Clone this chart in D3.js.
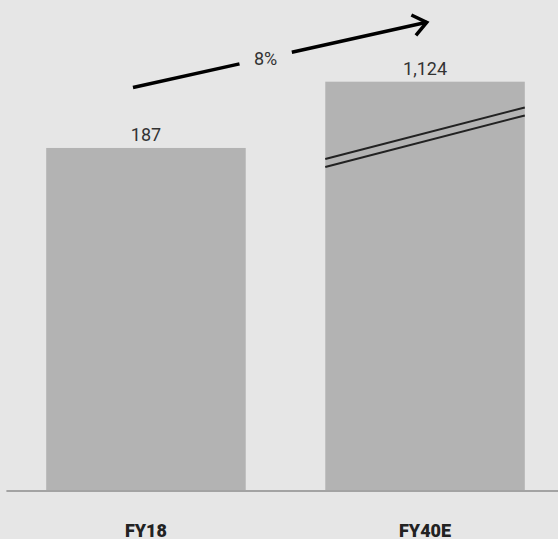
<!DOCTYPE html>
<html>
<head>
<meta charset="utf-8">
<script src="https://cdn.jsdelivr.net/npm/d3@7"></script>
<style>
  html, body { margin: 0; padding: 0; background: #e6e6e6; }
  svg { display: block; }
</style>
</head>
<body>
<svg id="chart" width="558" height="539"></svg>
<script>
// Revenue, FY18 actual vs FY40 estimate
const categories = ["FY18", "FY40E"];
const values = [187, 1124];
const valueLabels = ["187", "1,124"];
const growthLabel = "8%";
// value at which the axis is broken (short bar scale below, compressed above)
const breakValue = 193;

const width = 558, height = 539;
const baseline = 490;

const svg = d3.select("#chart");

svg.append("rect")
  .attr("width", width).attr("height", height)
  .attr("fill", "#e6e6e6");

const x = d3.scaleBand()
  .domain(categories)
  .range([13, 558])
  .paddingInner(0.285)
  .paddingOuter(0.119);

// piecewise scale: linear up to the break, compressed above it
const y = d3.scaleLinear()
  .domain([0, breakValue, d3.max(values)])
  .range([baseline, 137, 81.7]);

const data = categories.map((c, i) => ({ cat: c, value: values[i], label: valueLabels[i] }));

// bars
svg.selectAll("rect.bar")
  .data(data)
  .join("rect")
  .attr("class", "bar")
  .attr("x", d => x(d.cat))
  .attr("y", d => y(d.value))
  .attr("width", x.bandwidth())
  .attr("height", d => y(0) - y(d.value))
  .attr("fill", "#b3b3b3");

// axis break marks on bars that extend past the break
const breakY = y(breakValue);
data.filter(d => d.value > breakValue).forEach(d => {
  const x0 = x(d.cat), x1 = x(d.cat) + x.bandwidth();
  [-4, 4].forEach(off => {
    svg.append("line")
      .attr("x1", x0).attr("y1", breakY + 26 + off)
      .attr("x2", x1).attr("y2", breakY - 25.5 + off)
      .attr("stroke", "#222")
      .attr("stroke-width", 2);
  });
});

// baseline axis
const xAxis = d3.axisBottom(x).tickSize(0).tickPadding(0);
const axisG = svg.append("g").attr("transform", `translate(0,${baseline + 1})`).call(xAxis);
axisG.select(".domain")
  .attr("d", `M6.4,0H558`)
  .attr("stroke", "#a3a3a3")
  .attr("stroke-width", 2);
axisG.selectAll(".tick text")
  .attr("y", 45.5)
  .attr("dy", null)
  .attr("fill", "#222")
  .style("font-family", "Roboto, 'Noto Sans', sans-serif")
  .style("font-weight", 900)
  .style("font-size", "18px");

// value labels
svg.selectAll("text.value")
  .data(data)
  .join("text")
  .attr("class", "value")
  .attr("x", d => x(d.cat) + x.bandwidth() / 2)
  .attr("y", d => y(d.value) - 7)
  .attr("text-anchor", "middle")
  .attr("fill", "#333")
  .style("font-family", "Roboto, 'Noto Sans', sans-serif")
  .style("font-size", "18px")
  .text(d => d.label);

// growth arrow between the bars
const c0 = x(categories[0]) + x.bandwidth() / 2;
const c1 = x(categories[1]) + x.bandwidth() / 2;
const p0 = [c0 - 13, y(values[0]) - 60.4];
const p1 = [c1 + 1.7, y(values[1]) - 59.4];
const lerp = t => [p0[0] + (p1[0] - p0[0]) * t, p0[1] + (p1[1] - p0[1]) * t];
const gapStart = 0.3626, gapEnd = 0.5408;

const arrowG = svg.append("g")
  .attr("stroke", "#000")
  .attr("stroke-width", 3.5)
  .attr("fill", "none");

const line = d3.line();
arrowG.append("path").attr("d", line([p0, lerp(gapStart)]));
arrowG.append("path").attr("d", line([lerp(gapEnd), p1]));

const ang = Math.atan2(p0[1] - p1[1], p0[0] - p1[0]);
const armLen = 17, spread = 38 * Math.PI / 180;
const armA = [p1[0] + armLen * Math.cos(ang - spread), p1[1] + armLen * Math.sin(ang - spread)];
const armB = [p1[0] + armLen * Math.cos(ang + spread), p1[1] + armLen * Math.sin(ang + spread)];
arrowG.append("path")
  .attr("d", line([armA, p1, armB]))
  .attr("stroke-linejoin", "miter")
  .attr("stroke-linecap", "butt");

const mid = lerp((gapStart + gapEnd) / 2);
svg.append("text")
  .attr("x", mid[0])
  .attr("y", mid[1] + 6.5)
  .attr("text-anchor", "middle")
  .attr("fill", "#333")
  .style("font-family", "Roboto, 'Noto Sans', sans-serif")
  .style("font-size", "18px")
  .text(growthLabel);
</script>
</body>
</html>
